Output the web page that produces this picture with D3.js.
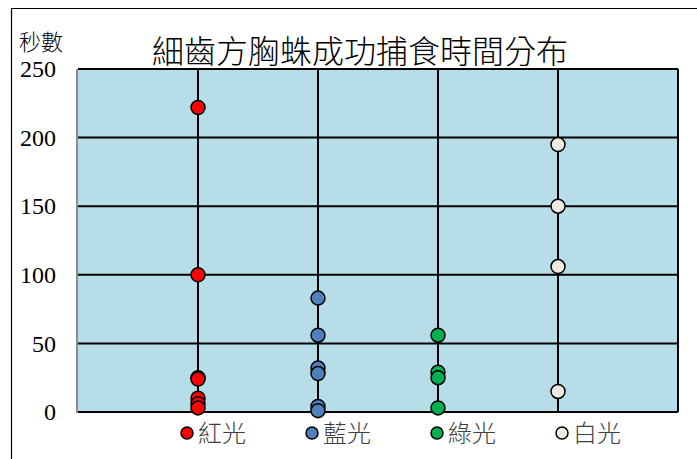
<!DOCTYPE html>
<html>
<head>
<meta charset="utf-8">
<script src="https://cdn.jsdelivr.net/npm/d3@7/dist/d3.min.js"></script>
<style>
  html, body { margin: 0; padding: 0; background: #fff; }
  svg { display: block; }
</style>
</head>
<body>
<svg id="chart" width="697" height="459"></svg>
<script>
// Capture times (seconds) for each light colour
const categories = ["紅光", "藍光", "綠光", "白光"];
const redTimes   = [222, 100, 25, 24, 10, 6, 3];
const blueTimes  = [83, 56, 32, 28, 4, 1];
const greenTimes = [56, 29, 25, 3];
const whiteTimes = [195, 150, 106, 15];
const seriesValues = [redTimes, blueTimes, greenTimes, whiteTimes];
const seriesColors = ["#FF0000", "#4F81BD", "#00B050", "#EEECE1"];
const yTicks = [0, 50, 100, 150, 200, 250];
const titleText = "細齒方胸蛛成功捕食時間分布";
const yUnit = "秒數";

const svg = d3.select("#chart");
const plot = { left: 78, right: 678, top: 69, bottom: 412 };

// outer frame (left and top edges)
svg.append("path")
  .attr("d", "M11.5,459 V8.5 H697")
  .attr("fill", "none").attr("stroke", "#000").attr("stroke-width", 1.2);

const x = d3.scaleLinear().domain([0, 5]).range([plot.left, plot.right]);
const y = d3.scaleLinear().domain([0, 250]).range([plot.bottom, plot.top]);

// plot background
svg.append("rect")
  .attr("x", plot.left).attr("y", plot.top)
  .attr("width", plot.right - plot.left).attr("height", plot.bottom - plot.top)
  .attr("fill", "#B7DDE8");

// horizontal gridlines
svg.append("g").selectAll("line").data(yTicks).join("line")
  .attr("x1", plot.left).attr("x2", plot.right)
  .attr("y1", d => y(d)).attr("y2", d => y(d))
  .attr("stroke", "#000").attr("stroke-width", 2);

// vertical gridlines at each category
svg.append("g").selectAll("line").data(d3.range(1, 6)).join("line")
  .attr("x1", d => x(d)).attr("x2", d => x(d))
  .attr("y1", plot.top).attr("y2", plot.bottom)
  .attr("stroke", "#000").attr("stroke-width", 2);

// left axis line
svg.append("line")
  .attr("x1", plot.left - 1).attr("x2", plot.left - 1)
  .attr("y1", plot.top).attr("y2", plot.bottom + 1)
  .attr("stroke", "#8c8c8c").attr("stroke-width", 2);

// y axis labels
const yAxis = d3.axisLeft(y).tickValues(yTicks).tickSize(0).tickPadding(22);
const yG = svg.append("g").attr("transform", `translate(${plot.left},0)`).call(yAxis);
yG.select(".domain").remove();
yG.selectAll("text")
  .attr("font-family", "'Liberation Serif', serif")
  .attr("font-size", 24).attr("fill", "#000");

// unit label
svg.append("text").attr("x", 19).attr("y", 50)
  .attr("font-family", "'Noto Sans CJK TC', sans-serif").attr("font-weight", 300)
  .attr("font-size", 22).attr("fill", "#000").text(yUnit);

// title
svg.append("text").attr("x", 360).attr("y", 63).attr("text-anchor", "middle")
  .attr("font-family", "'Noto Sans CJK TC', sans-serif").attr("font-weight", 300)
  .attr("font-size", 32).attr("fill", "#000").text(titleText);

// data points
seriesValues.forEach((vals, i) => {
  svg.append("g").selectAll("circle").data(vals).join("circle")
    .attr("cx", x(i + 1)).attr("cy", d => y(d)).attr("r", 7)
    .attr("fill", seriesColors[i]).attr("stroke", "#000").attr("stroke-width", 1.5);
});

// legend
const legendX = d3.scaleLinear().domain([0, 3]).range([187, 562]);
const lg = svg.append("g").selectAll("g").data(categories).join("g")
  .attr("transform", (d, i) => `translate(${legendX(i)},433)`);
lg.append("circle").attr("r", 6)
  .attr("fill", (d, i) => seriesColors[i]).attr("stroke", "#000").attr("stroke-width", 1.5);
lg.append("text").attr("x", 11).attr("y", 9)
  .attr("font-family", "'Noto Sans CJK TC', sans-serif").attr("font-weight", 300)
  .attr("font-size", 24).attr("fill", "#404040").text(d => d);
</script>
</body>
</html>
